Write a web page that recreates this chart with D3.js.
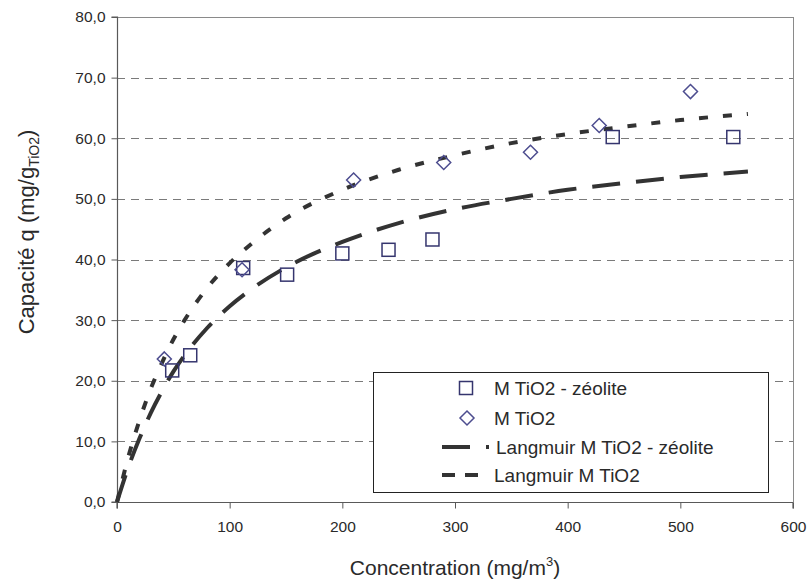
<!DOCTYPE html>
<html>
<head>
<meta charset="utf-8">
<script src="https://cdn.jsdelivr.net/npm/d3@7"></script>
<style>
html,body{margin:0;padding:0;background:#fff;}
svg{display:block;}
text{font-family:"Liberation Sans",Arial,Helvetica,sans-serif;fill:#2a2a2a;}
</style>
</head>
<body>
<svg id="chart" width="811" height="583"></svg>
<script>
// ---- data ----
const zeoliteC = [49, 65, 112, 151, 200, 241, 280, 440, 547];
const zeoliteQ = [21.7, 24.2, 38.6, 37.5, 41.0, 41.6, 43.3, 60.2, 60.2];
const tio2C = [42, 111, 210, 290, 367, 428, 509];
const tio2Q = [23.6, 38.3, 53.1, 56.0, 57.7, 62.1, 67.7];
const fitC = [0, 10, 20, 30, 40, 50, 60, 80, 100, 120, 150, 200, 250, 300, 350, 400, 450, 500, 560];
const langZeolite = [0, 5.7, 10.5, 14.7, 18.3, 21.5, 24.2, 28.7, 32.3, 35.2, 38.7, 42.9, 46.0, 48.3, 50.0, 51.5, 52.6, 53.6, 54.5];
const langTiO2 = [0, 7.4, 13.5, 18.7, 23.0, 26.8, 30.0, 35.3, 39.4, 42.7, 46.8, 51.5, 54.8, 57.2, 59.2, 60.7, 61.9, 63.0, 64.0];
const xTicks = [0, 100, 200, 300, 400, 500, 600];
const yTicks = [0, 10, 20, 30, 40, 50, 60, 70, 80];
const yTickLabels = ["0,0", "10,0", "20,0", "30,0", "40,0", "50,0", "60,0", "70,0", "80,0"];
const legendLabels = ["M TiO2 - zéolite", "M TiO2", "Langmuir M TiO2 - zéolite", "Langmuir M TiO2"];

// ---- layout ----
const L = 117, R = 793, T = 17, B = 502;
const svg = d3.select("#chart");
const x = d3.scaleLinear().domain([0, 600]).range([L, R]);
const y = d3.scaleLinear().domain([0, 80]).range([B, T]);

const axisCol = "#595959";
const markZeo = "#35356e";
const markTiO2 = "#4d4d8f";

// gridlines
svg.append("g").selectAll("line")
  .data(yTicks.filter(v => v > 0 && v < 80))
  .join("line")
  .attr("x1", L).attr("x2", R)
  .attr("y1", d => Math.round(y(d)) + 0.5).attr("y2", d => Math.round(y(d)) + 0.5)
  .attr("stroke", "#7a7a7a").attr("stroke-width", 1)
  .attr("stroke-dasharray", "8,6");

// plot border top/right
svg.append("line").attr("x1", L).attr("x2", R + 0.5).attr("y1", T + 0.5).attr("y2", T + 0.5)
  .attr("stroke", "#8a8a8a").attr("stroke-width", 1);
svg.append("line").attr("x1", R + 0.5).attr("x2", R + 0.5).attr("y1", T).attr("y2", B)
  .attr("stroke", "#8a8a8a").attr("stroke-width", 1);

// axes
const yAxis = d3.axisLeft(y).tickValues(yTicks).tickSize(6).tickPadding(6)
  .tickFormat((d, i) => yTickLabels[i]);
const gy = svg.append("g").attr("transform", `translate(${L + 0.5},0)`).call(yAxis);
const xAxis = d3.axisBottom(x).tickValues(xTicks).tickSize(6).tickPadding(12);
const gx = svg.append("g").attr("transform", `translate(0,${B + 0.5})`).call(xAxis);
[gx, gy].forEach(g => {
  g.select(".domain").attr("stroke", axisCol).attr("stroke-width", 1.2);
  g.selectAll(".tick line").attr("stroke", axisCol);
  g.selectAll(".tick text").attr("font-size", 15.5).attr("fill", "#2a2a2a")
    .attr("font-family", "'Liberation Sans', Arial, sans-serif");
});
gy.select(".domain").attr("d", `M-6,${B}H0V${T}H-6`);
gx.select(".domain").attr("d", `M${L},6V0H${R}V6`);

// Langmuir curves
const line = d3.line().x(d => x(d[0])).y(d => y(d[1])).curve(d3.curveMonotoneX);
svg.append("path").datum(fitC.map((c, i) => [c, langZeolite[i]]))
  .attr("d", line).attr("fill", "none").attr("stroke", "#333")
  .attr("stroke-width", 4).attr("stroke-dasharray", "28,16");
svg.append("path").datum(fitC.map((c, i) => [c, langTiO2[i]]))
  .attr("d", line).attr("fill", "none").attr("stroke", "#333")
  .attr("stroke-width", 4).attr("stroke-dasharray", "9,15");

// markers
const sq = 6.5;
svg.append("g").selectAll("rect")
  .data(zeoliteC.map((c, i) => [c, zeoliteQ[i]]))
  .join("rect")
  .attr("x", d => x(d[0]) - sq).attr("y", d => y(d[1]) - sq)
  .attr("width", sq * 2).attr("height", sq * 2)
  .attr("fill", "none").attr("stroke", markZeo).attr("stroke-width", 1.5);
const dm = 7;
const diamond = (cx, cy) => `M${cx},${cy - dm}L${cx + dm},${cy}L${cx},${cy + dm}L${cx - dm},${cy}Z`;
svg.append("g").selectAll("path")
  .data(tio2C.map((c, i) => [c, tio2Q[i]]))
  .join("path")
  .attr("d", d => diamond(x(d[0]), y(d[1])))
  .attr("fill", "none").attr("stroke", markTiO2).attr("stroke-width", 1.5);

// axis titles
const yt = svg.append("text")
  .attr("transform", "translate(34,232) rotate(-90)")
  .attr("text-anchor", "middle").attr("font-size", 22);
yt.append("tspan").text("Capacité q (mg/g");
yt.append("tspan").attr("font-size", 14).attr("dy", 5).text("TiO2");
yt.append("tspan").attr("dy", -5).text(")");

const xt = svg.append("text")
  .attr("x", 455).attr("y", 575)
  .attr("text-anchor", "middle").attr("font-size", 21);
xt.append("tspan").text("Concentration (mg/m");
xt.append("tspan").attr("font-size", 13).attr("dy", -9).text("3");
xt.append("tspan").attr("dy", 9).text(")");

// legend
const lg = svg.append("g");
lg.append("rect").attr("x", 373.5).attr("y", 372.5).attr("width", 395).attr("height", 120)
  .attr("fill", "#fff").attr("stroke", "#222").attr("stroke-width", 1);
const rowsY = [388, 418, 447, 475];
lg.append("rect").attr("x", 466 - sq).attr("y", rowsY[0] - sq)
  .attr("width", sq * 2).attr("height", sq * 2)
  .attr("fill", "none").attr("stroke", markZeo).attr("stroke-width", 1.5);
lg.append("path").attr("d", diamond(467, rowsY[1]))
  .attr("fill", "none").attr("stroke", markTiO2).attr("stroke-width", 1.5);
lg.append("line").attr("x1", 442).attr("x2", 489).attr("y1", rowsY[2]).attr("y2", rowsY[2])
  .attr("stroke", "#333").attr("stroke-width", 4).attr("stroke-dasharray", "28,16");
lg.append("line").attr("x1", 442).attr("x2", 479).attr("y1", rowsY[3]).attr("y2", rowsY[3])
  .attr("stroke", "#333").attr("stroke-width", 4).attr("stroke-dasharray", "13,10");
const textX = [494, 494, 496, 494];
lg.selectAll("text.lab").data(legendLabels).join("text")
  .attr("class", "lab")
  .attr("x", (d, i) => textX[i]).attr("y", (d, i) => rowsY[i])
  .attr("dy", "0.35em").attr("font-size", 19).text(d => d);
</script>
</body>
</html>
